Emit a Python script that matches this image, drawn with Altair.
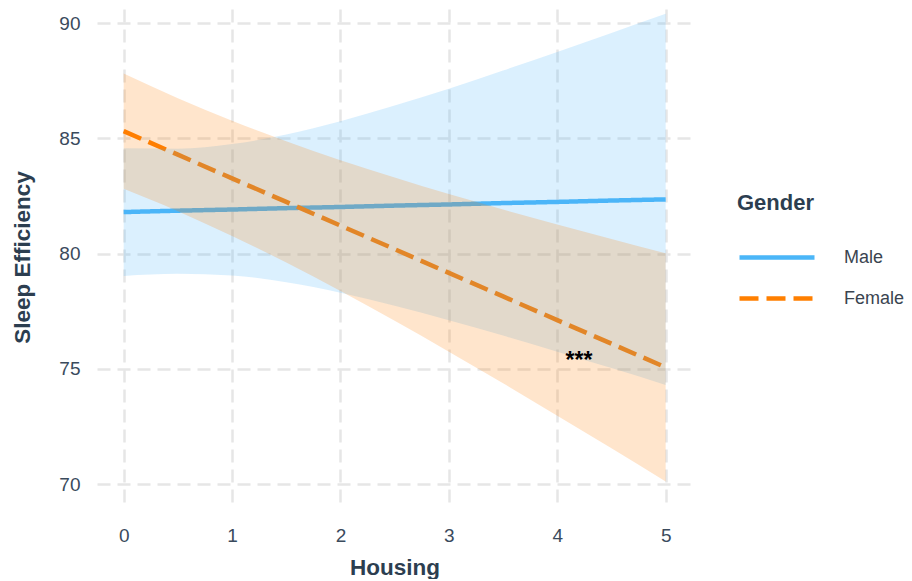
import altair as alt
import pandas as pd

# Housing grid at which the fitted lines / confidence bands were read
housing = [0, 0.5, 1, 1.5, 2, 2.5, 3, 3.5, 4, 4.5, 5]

male_fit = [81.80, 81.86, 81.91, 81.97, 82.02, 82.08, 82.13, 82.19, 82.24, 82.30, 82.35]
male_lo = [79.03, 79.12, 79.05, 78.75, 78.30, 77.74, 77.11, 76.44, 75.74, 75.03, 74.30]
male_hi = [84.57, 84.55, 84.75, 85.16, 85.74, 86.42, 87.15, 87.94, 88.74, 89.57, 90.40]

female_fit = [85.31, 84.29, 83.26, 82.24, 81.21, 80.19, 79.16, 78.14, 77.11, 76.09, 75.06]
female_lo = [82.81, 81.84, 80.76, 79.61, 78.37, 77.08, 75.74, 74.37, 72.96, 71.55, 70.11]
female_hi = [87.81, 86.74, 85.76, 84.87, 84.05, 83.30, 82.58, 81.91, 81.26, 80.63, 80.01]

genders = ["Male", "Female"]
gender_colors = ["#4BB6F8", "#FF7F00"]

x_ticks = [0, 1, 2, 3, 4, 5]
y_ticks = [70, 75, 80, 85, 90]

annot_x = [4.2]
annot_y = [75.35]
annot_text = ["***"]

rows = []
for g, fit, lo, hi in [("Male", male_fit, male_lo, male_hi),
                       ("Female", female_fit, female_lo, female_hi)]:
    for i, h in enumerate(housing):
        rows.append({"Housing": h, "Gender": g, "fit": fit[i], "lo": lo[i], "hi": hi[i]})
df = pd.DataFrame(rows)
annot = pd.DataFrame({"x": annot_x, "y": annot_y, "label": annot_text})

x_scale = alt.Scale(domain=[-0.246, 5.243], nice=False, zero=False)
y_scale = alt.Scale(domain=[69.09, 90.61], nice=False, zero=False)
color_scale = alt.Scale(domain=genders, range=gender_colors)
dash_scale = alt.Scale(domain=genders, range=[[1, 0], [19, 8]])

legend_kw = dict(
    title="Gender",
    orient="none",
    legendX=640,
    legendY=184,
    symbolType="stroke",
    symbolSize=5625,
    symbolStrokeWidth=4.5,
    labelOffset=27,
    clipHeight=39,
    rowPadding=2,
    titlePadding=23,
)

x_enc = alt.X("Housing:Q", scale=x_scale, title="Housing",
              axis=alt.Axis(values=x_ticks, format="d"))

base = alt.Chart(df)

lines = base.mark_line(strokeWidth=4.5, clip=True).encode(
    x=x_enc,
    y=alt.Y("fit:Q", scale=y_scale, title="Sleep Efficiency",
            axis=alt.Axis(values=y_ticks)),
    color=alt.Color("Gender:N", scale=color_scale, legend=alt.Legend(**legend_kw)),
    strokeDash=alt.StrokeDash("Gender:N", scale=dash_scale, legend=alt.Legend(**legend_kw)),
    order=alt.Order("Housing:Q"),
)

bands = base.mark_area(opacity=0.2, clip=True, interpolate="monotone").encode(
    x=x_enc,
    y=alt.Y("lo:Q", scale=y_scale),
    y2="hi:Q",
    color=alt.Color("Gender:N", scale=color_scale, legend=None),
)

stars = alt.Chart(annot).mark_text(
    fontSize=23, fontWeight="bold", color="#000000", baseline="middle", align="center",
    font="Liberation Sans",
).encode(
    x=alt.X("x:Q", scale=x_scale),
    y=alt.Y("y:Q", scale=y_scale),
    text="label:N",
)

chart = alt.layer(lines, bands, stars).properties(
    width=595,
    height=496,
    autosize=alt.AutoSizeParams(type="none"),
    padding={"left": 89, "top": 1, "right": 212, "bottom": 74},
).configure_view(
    stroke=None
).configure_axis(
    domain=False,
    ticks=False,
    grid=True,
    gridColor="#E6E6E6",
    gridWidth=2.5,
    gridDash=[13, 7],
    labelFont="Liberation Sans",
    labelFontSize=19,
    labelColor="#3A4A5C",
    titleFont="Liberation Sans",
    titleFontSize=22.5,
    titleFontWeight="bold",
    titleColor="#2C3E50",
).configure_axisX(
    labelPadding=21,
    titlePadding=11,
).configure_axisY(
    labelPadding=17,
    titlePadding=24,
).configure_legend(
    titleFont="Liberation Sans",
    titleFontSize=22,
    titleFontWeight="bold",
    titleColor="#2C3E50",
    labelFont="Liberation Sans",
    labelFontSize=18,
    labelColor="#3A4450",
    labelLimit=200,
    padding=0,
)

chart.save("out.html", embed_options={"renderer": "svg", "actions": False})
